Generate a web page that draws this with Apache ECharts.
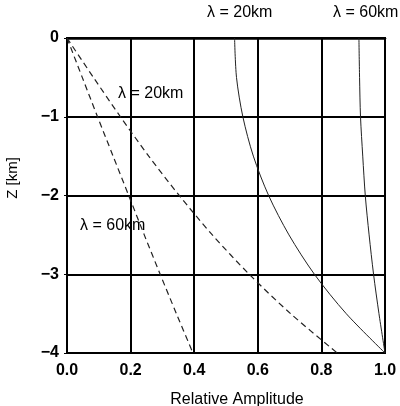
<!DOCTYPE html>
<html>
<head>
<meta charset="utf-8">
<script src="https://cdn.jsdelivr.net/npm/echarts@6/dist/echarts.min.js"></script>
<style>html,body{margin:0;padding:0;background:#fff}#c{width:400px;height:406px}</style>
</head>
<body>
<div id="c"></div>
<script>
// Depths (km)
var depths = [0, -0.5, -1, -1.5, -2, -2.5, -3, -3.5, -4];
// Relative amplitude, solid curves
var solid20 = [0.527, 0.533, 0.553, 0.586, 0.634, 0.698, 0.778, 0.878, 1.0];
var solid60 = [0.918, 0.920, 0.923, 0.930, 0.938, 0.950, 0.964, 0.981, 1.0];
// Relative amplitude, dashed curves
var dashed20 = [0, 0.083, 0.168, 0.257, 0.353, 0.457, 0.573, 0.703, 0.850];
var dashed60 = [0, 0.048, 0.096, 0.145, 0.194, 0.243, 0.293, 0.344, 0.396];
var xTicks = [0, 0.2, 0.4, 0.6, 0.8, 1.0];
var yTicks = [0, -1, -2, -3, -4];

function pairs(xs){ return xs.map(function(v,i){ return [v, depths[i]]; }); }

var chart = echarts.init(document.getElementById('c'), null, {renderer:'canvas'});
var fontFam = '"Liberation Sans", Arial, Helvetica, sans-serif';
var lineStyleSolid = {color:'#222', width:1};
var lineStyleDash = {color:'#222', width:1.2, type:[6,4]};
chart.setOption({
  animation:false,
  grid:{left:67, right:15, top:38, bottom:53, show:true, borderColor:'#000', borderWidth:2},
  xAxis:{type:'value', min:0, max:1, interval:0.2,
    axisLine:{show:true, lineStyle:{color:'#000', width:2.5}},
    axisTick:{show:false},
    splitLine:{show:true, lineStyle:{color:'#000', width:2}},
    axisLabel:{color:'#000', fontFamily:fontFam, fontWeight:'bold', fontSize:16, margin:10,
      formatter:function(v){ return v.toFixed(1); }}
  },
  yAxis:{type:'value', min:-4, max:0, interval:1,
    axisLine:{show:true, lineStyle:{color:'#000', width:2}},
    axisTick:{show:true, length:3, lineStyle:{color:'#000'}},
    splitLine:{show:true, lineStyle:{color:'#000', width:2}},
    axisLabel:{color:'#000', fontFamily:fontFam, fontWeight:'bold', fontSize:16, margin:8,
      formatter:function(v){ return v === 0 ? '0' : '\u2212' + Math.abs(v); }}
  },
  series:[
    {type:'line', data:pairs(solid20), smooth:0.3, symbol:'none', lineStyle:lineStyleSolid},
    {type:'line', data:pairs(solid60), smooth:0.3, symbol:'none', lineStyle:lineStyleSolid},
    {type:'line', data:pairs(dashed20), smooth:0.3, symbol:'none', lineStyle:lineStyleDash},
    {type:'line', data:pairs(dashed60), smooth:0.3, symbol:'none', lineStyle:lineStyleDash}
  ],
  graphic:[
    {type:'text', left:207, top:5, style:{text:'\u03bb = 20km', font:'16px ' + fontFam, fill:'#000'}},
    {type:'text', left:333, top:5, style:{text:'\u03bb = 60km', font:'16px ' + fontFam, fill:'#000'}},
    {type:'text', left:118, top:86, style:{text:'\u03bb = 20km', font:'16px ' + fontFam, fill:'#000'}},
    {type:'text', left:80, top:218, style:{text:'\u03bb = 60km', font:'16px ' + fontFam, fill:'#000'}},
    {type:'text', x:237, y:400, style:{text:'Relative Amplitude', font:'16px ' + fontFam, fill:'#000', align:'center', verticalAlign:'middle'}},
    {type:'text', x:13, y:178, rotation:Math.PI/2, style:{text:'Z [km]', font:'15px ' + fontFam, fill:'#000', align:'center', verticalAlign:'middle'}}
  ]
});
</script>
</body>
</html>
